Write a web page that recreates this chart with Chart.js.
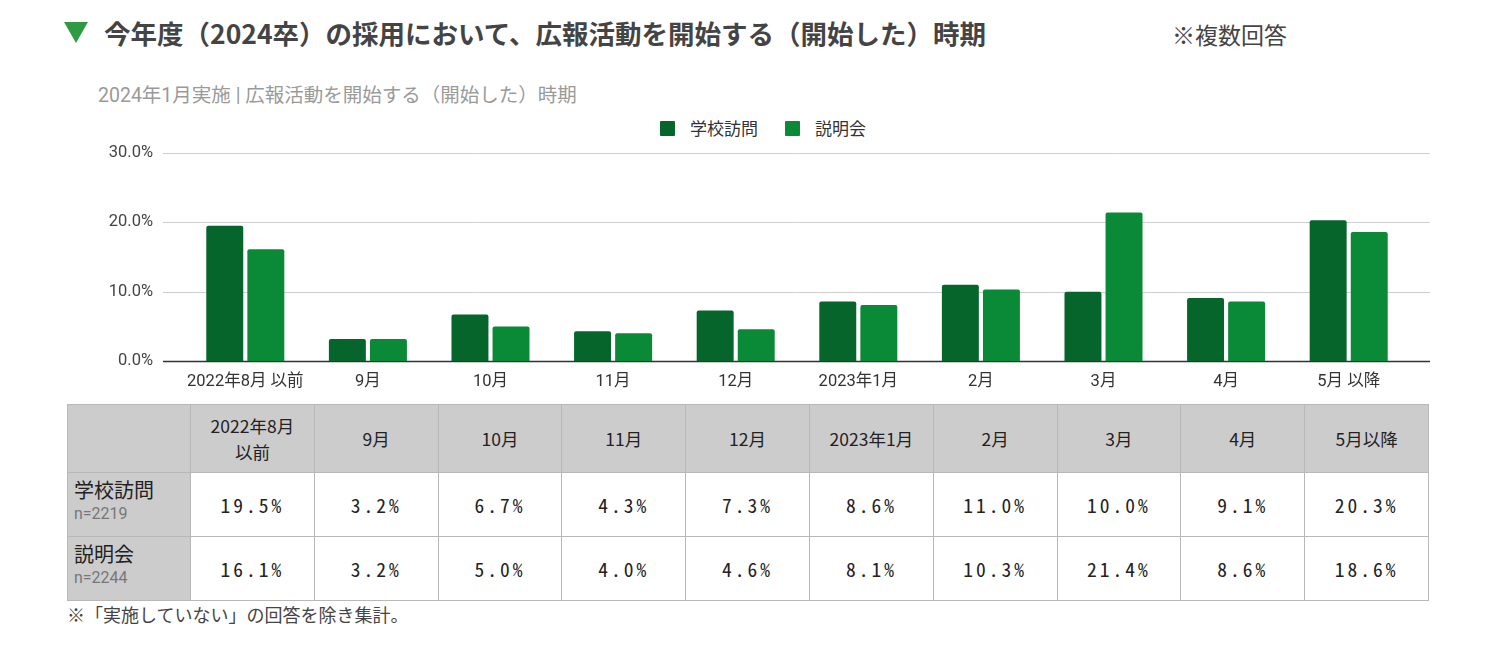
<!DOCTYPE html>
<html lang="ja">
<head>
<meta charset="utf-8">
<script src="https://cdn.jsdelivr.net/npm/chart.js@4.4.1/dist/chart.umd.min.js"></script>
<style>
  html, body { margin:0; padding:0; background:#fff; }
  body { width:1486px; height:662px; position:relative; overflow:hidden;
         font-family:"Noto Sans CJK JP","Noto Sans",Roboto,sans-serif; }
  .abs { position:absolute; white-space:nowrap; }
  #tri { left:64px; top:22px; width:0; height:0;
         border-left:12px solid transparent; border-right:12px solid transparent;
         border-top:21px solid #2e9a44; }
  #title { left:104px; top:14px; font-size:26.5px; font-weight:bold; color:#444; line-height:38px; }
  #note { left:1172px; top:18px; font-size:23px; color:#444; line-height:32px; }
  #sub { left:98px; top:82px; font-size:19.5px; color:#9a9a9a; line-height:28px; font-family:Roboto,"Noto Sans CJK JP",sans-serif; }
  #legend { left:660px; top:117px; font-size:17px; color:#333; line-height:22px; display:flex; }
  #legend .it { display:flex; align-items:center; margin-right:27px; }
  #legend .sw { width:15px; height:15px; margin-right:15px; border-radius:1px; }
  #chartBox { left:0; top:112px; width:1486px; height:290px; }
  #tbl { position:absolute; left:67px; top:404px; width:1362px; border-collapse:collapse; table-layout:fixed; }
  #tbl td, #tbl th { border:1px solid #b8b8b8; text-align:center; padding:0; }
  #tbl th { background:#cccccc; font-weight:normal; font-size:17.5px; color:#222; line-height:26px; height:67px; }
  #tbl td.lab { background:#cccccc; text-align:left; padding-left:6px; vertical-align:top; }
  #tbl td.lab .nm { font-size:20px; color:#222; line-height:24px; margin-top:5px; }
  #tbl td.lab .n { font-size:16px; color:#777; line-height:24px; font-family:Roboto,sans-serif; }
  #tbl td.v { font-size:19.5px; color:#222; letter-spacing:3px;
              font-family:"Noto Sans Mono CJK JP","Noto Sans CJK JP","DejaVu Sans Mono",monospace; }
  #tbl tr.r { height:64px; }
  #foot { left:67px; top:601px; font-size:18px; color:#444; line-height:26px; }
</style>
</head>
<body>
<div id="tri" class="abs"></div>
<div id="title" class="abs">今年度（2024卒）の採用において、広報活動を開始する（開始した）時期</div>
<div id="note" class="abs">※複数回答</div>
<div id="sub" class="abs">2024年1月実施 | 広報活動を開始する（開始した）時期</div>
<div id="legend" class="abs"></div>
<div id="chartBox" class="abs"><canvas id="c"></canvas></div>
<table id="tbl"></table>
<div id="foot" class="abs">※「実施していない」の回答を除き集計。</div>

<script>
// ---- data ----
const categories = ['2022年8月 以前','9月','10月','11月','12月','2023年1月','2月','3月','4月','5月 以降'];
const tableHeaders = ['2022年8月<br>以前','9月','10月','11月','12月','2023年1月','2月','3月','4月','5月以降'];
const seriesNames = ['学校訪問','説明会'];
const seriesN = ['n=2219','n=2244'];
const schoolVisit = [19.5, 3.2, 6.7, 4.3, 7.3, 8.6, 11.0, 10.0, 9.1, 20.3];
const briefing   = [16.1, 3.2, 5.0, 4.0, 4.6, 8.1, 10.3, 21.4, 8.6, 18.6];
const yTicks = [0, 10, 20, 30];

const colors = ['#05652a', '#0a8a37'];
const seriesValues = [schoolVisit, briefing];

// legend
const lg = document.getElementById('legend');
seriesNames.forEach((nm, i) => {
  const it = document.createElement('div'); it.className = 'it';
  it.innerHTML = '<span class="sw" style="background:' + colors[i] + '"></span><span>' + nm + '</span>';
  lg.appendChild(it);
});

// table
const tbl = document.getElementById('tbl');
let html = '<colgroup><col style="width:123px">' + categories.map(() => '<col>').join('') + '</colgroup>';
html += '<tr><th></th>' + tableHeaders.map(h => '<th>' + h + '</th>').join('') + '</tr>';
seriesNames.forEach((nm, i) => {
  html += '<tr class="r"><td class="lab"><div class="nm">' + nm + '</div><div class="n">' + seriesN[i] + '</div></td>' +
    seriesValues[i].map(v => '<td class="v">' + v.toFixed(1) + '%</td>').join('') + '</tr>';
});
tbl.innerHTML = html;

// grid plugin: horizontal lines extended beyond plot area
const gridPlugin = {
  id: 'extGrid',
  beforeDatasetsDraw(chart) {
    const { ctx, chartArea, scales } = chart;
    ctx.save();
    yTicks.forEach(t => {
      const y = Math.round(scales.y.getPixelForValue(t)) + 0.5;
      ctx.beginPath();
      ctx.strokeStyle = t === 0 ? '#333' : '#cfcfcf';
      ctx.lineWidth = t === 0 ? 1.5 : 1;
      ctx.moveTo(chartArea.left - 21, y);
      ctx.lineTo(chartArea.right + 20, y);
      ctx.stroke();
    });
    ctx.restore();
  }
};

new Chart(document.getElementById('c'), {
  type: 'bar',
  data: {
    labels: categories,
    datasets: seriesNames.map((nm, i) => ({
      label: nm,
      data: seriesValues[i],
      backgroundColor: colors[i],
      borderRadius: 2,
      borderSkipped: 'bottom',
      categoryPercentage: 0.67,
      barPercentage: 0.9
    }))
  },
  options: {
    responsive: true,
    maintainAspectRatio: false,
    animation: false,
    layout: { padding: { top: 13, right: 76, left: 0, bottom: 0 } },
    plugins: { legend: { display: false }, tooltip: { enabled: false } },
    scales: {
      x: {
        grid: { display: false, drawTicks: false },
        border: { display: false },
        ticks: { color: '#333', font: { size: 16.5, family: 'Roboto, "Noto Sans CJK JP", sans-serif' }, padding: 11, maxRotation: 0, autoSkip: false },
        afterFit(s) { s.height = 40; }
      },
      y: {
        min: 0, max: 30,
        grid: { display: false, drawTicks: false },
        border: { display: false },
        ticks: { stepSize: 10, color: '#444', padding: 31,
                 font: { size: 16.5, family: 'Roboto, "Noto Sans CJK JP", sans-serif' },
                 callback: v => v.toFixed(1) + '%' },
        afterFit(s) { s.width = 184; }
      }
    }
  },
  plugins: [gridPlugin]
});
</script>
</body>
</html>
